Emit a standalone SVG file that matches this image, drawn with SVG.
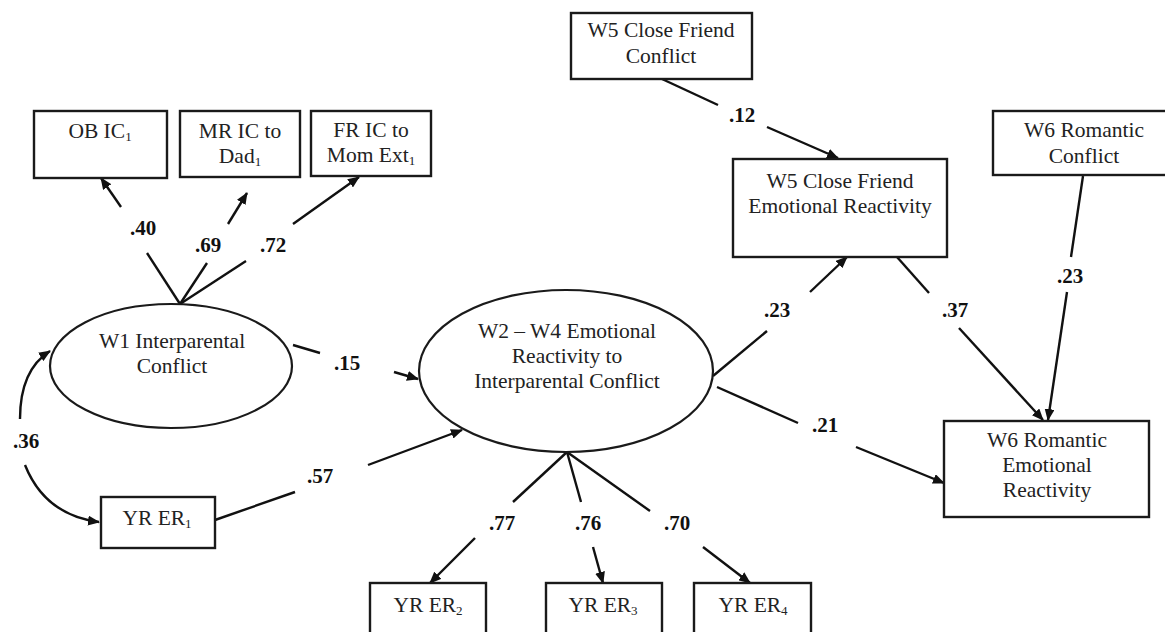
<svg xmlns="http://www.w3.org/2000/svg" width="1165" height="632" viewBox="0 0 1165 632">
<style>
  .box { fill: #fff; stroke: #1a1a1a; stroke-width: 2.4; }
  .ell { fill: #fff; stroke: #1a1a1a; stroke-width: 2.2; }
  .t { font-family: "Liberation Serif", "Times New Roman", serif; font-size: 21.5px; fill: #222; text-anchor: middle; }
  .lbl { font-family: "Liberation Serif", "Times New Roman", serif; font-size: 21px; font-weight: bold; fill: #111; text-anchor: middle; }
  .sub { font-size: 13px; }
  .ln { stroke: #111; stroke-width: 2.4; fill: none; }
  .ar { stroke: #111; stroke-width: 2.4; fill: none; marker-end: url(#ah); }
</style>
<defs>
  <marker id="ah" markerUnits="userSpaceOnUse" markerWidth="12" markerHeight="10" refX="11" refY="5" orient="auto">
    <path d="M0,0 L12,5 L0,10 Z" fill="#111"/>
  </marker>
</defs>
<rect width="1165" height="632" fill="#fff"/>

<g id="connectors">
  <line class="ln" x1="180" y1="304" x2="147" y2="253"/>
  <line class="ar" x1="121" y1="207" x2="101" y2="178"/>
  <line class="ln" x1="180" y1="304" x2="207" y2="263"/>
  <line class="ar" x1="228" y1="224" x2="247" y2="193"/>
  <line class="ln" x1="180" y1="304" x2="246" y2="261"/>
  <line class="ar" x1="293" y1="224" x2="359" y2="177"/>
  <line class="ln" x1="293" y1="345" x2="320" y2="353"/>
  <line class="ar" x1="394" y1="372" x2="418" y2="379"/>
  <line class="ln" x1="215" y1="520" x2="295" y2="492"/>
  <line class="ar" x1="368" y1="465" x2="462" y2="430"/>
  <path class="ar" d="M20,419 Q20,370 50,351"/>
  <path class="ar" d="M25,465 Q45,515 99,522"/>
  <line class="ln" x1="567" y1="452" x2="513" y2="502"/>
  <line class="ar" x1="475" y1="538" x2="430" y2="583"/>
  <line class="ln" x1="567" y1="452" x2="581" y2="502"/>
  <line class="ar" x1="593" y1="547" x2="603" y2="583"/>
  <line class="ln" x1="567" y1="452" x2="650" y2="511"/>
  <line class="ar" x1="703" y1="547" x2="750" y2="583"/>
  <line class="ln" x1="713" y1="376" x2="767" y2="331"/>
  <line class="ar" x1="810" y1="292" x2="847" y2="257"/>
  <line class="ln" x1="662" y1="79" x2="718" y2="105"/>
  <line class="ar" x1="767" y1="127" x2="838" y2="158"/>
  <line class="ln" x1="897" y1="257" x2="929" y2="293"/>
  <line class="ar" x1="959" y1="328" x2="1043" y2="420"/>
  <line class="ln" x1="1083" y1="176" x2="1071" y2="257"/>
  <line class="ar" x1="1067" y1="292" x2="1048" y2="420"/>
  <line class="ln" x1="717" y1="387" x2="798" y2="423"/>
  <line class="ar" x1="856" y1="447" x2="944" y2="483"/>
</g>

<g id="labels">
  <text class="lbl" x="143" y="235">.40</text>
  <text class="lbl" x="208" y="252">.69</text>
  <text class="lbl" x="273" y="252">.72</text>
  <text class="lbl" x="347" y="370">.15</text>
  <text class="lbl" x="26" y="448">.36</text>
  <text class="lbl" x="320" y="483">.57</text>
  <text class="lbl" x="502" y="530">.77</text>
  <text class="lbl" x="588" y="530">.76</text>
  <text class="lbl" x="677" y="530">.70</text>
  <text class="lbl" x="777" y="317">.23</text>
  <text class="lbl" x="742" y="122">.12</text>
  <text class="lbl" x="955" y="317">.37</text>
  <text class="lbl" x="1070" y="283">.23</text>
  <text class="lbl" x="825" y="432">.21</text>
</g>

<g id="ob-ic1">
  <rect class="box" x="34" y="111" width="133" height="67"/>
  <text class="t" x="100" y="138">OB IC<tspan class="sub" dy="3">1</tspan></text>
</g>
<g id="mr-ic-dad1">
  <rect class="box" x="180" y="111" width="120" height="66"/>
  <text class="t" x="240" y="138">MR IC to</text>
  <text class="t" x="240" y="163">Dad<tspan class="sub" dy="3">1</tspan></text>
</g>
<g id="fr-ic-mom1">
  <rect class="box" x="311" y="111" width="120" height="65"/>
  <text class="t" x="371" y="137">FR IC to</text>
  <text class="t" x="371" y="162">Mom Ext<tspan class="sub" dy="3">1</tspan></text>
</g>
<g id="w5-cf-conflict">
  <rect class="box" x="571" y="13" width="181" height="66"/>
  <text class="t" x="661" y="37">W5 Close Friend</text>
  <text class="t" x="661" y="63">Conflict</text>
</g>
<g id="w5-cf-er">
  <rect class="box" x="733" y="159" width="214" height="98"/>
  <text class="t" x="840" y="188">W5 Close Friend</text>
  <text class="t" x="840" y="213">Emotional Reactivity</text>
</g>
<g id="w6-rom-conflict">
  <rect class="box" x="993" y="111" width="190" height="64"/>
  <text class="t" x="1084" y="137">W6 Romantic</text>
  <text class="t" x="1084" y="163">Conflict</text>
</g>
<g id="w1-ipc">
  <ellipse class="ell" cx="171" cy="366" rx="121" ry="62"/>
  <text class="t" x="172" y="348">W1 Interparental</text>
  <text class="t" x="172" y="373">Conflict</text>
</g>
<g id="w2-w4-er">
  <ellipse class="ell" cx="566" cy="371" rx="147" ry="81"/>
  <text class="t" x="567" y="338">W2 – W4 Emotional</text>
  <text class="t" x="567" y="363">Reactivity to</text>
  <text class="t" x="567" y="388">Interparental Conflict</text>
</g>
<g id="yr-er1">
  <rect class="box" x="101" y="497" width="114" height="51"/>
  <text class="t" x="157" y="525">YR ER<tspan class="sub" dy="3">1</tspan></text>
</g>
<g id="w6-rom-er">
  <rect class="box" x="944" y="421" width="205" height="96"/>
  <text class="t" x="1047" y="447">W6 Romantic</text>
  <text class="t" x="1047" y="472">Emotional</text>
  <text class="t" x="1047" y="497">Reactivity</text>
</g>
<g id="yr-er2">
  <rect class="box" x="370" y="583" width="116" height="60"/>
  <text class="t" x="428" y="612">YR ER<tspan class="sub" dy="3">2</tspan></text>
</g>
<g id="yr-er3">
  <rect class="box" x="546" y="583" width="116" height="60"/>
  <text class="t" x="603" y="612">YR ER<tspan class="sub" dy="3">3</tspan></text>
</g>
<g id="yr-er4">
  <rect class="box" x="694" y="583" width="117" height="60"/>
  <text class="t" x="753" y="612">YR ER<tspan class="sub" dy="3">4</tspan></text>
</g>
</svg>
